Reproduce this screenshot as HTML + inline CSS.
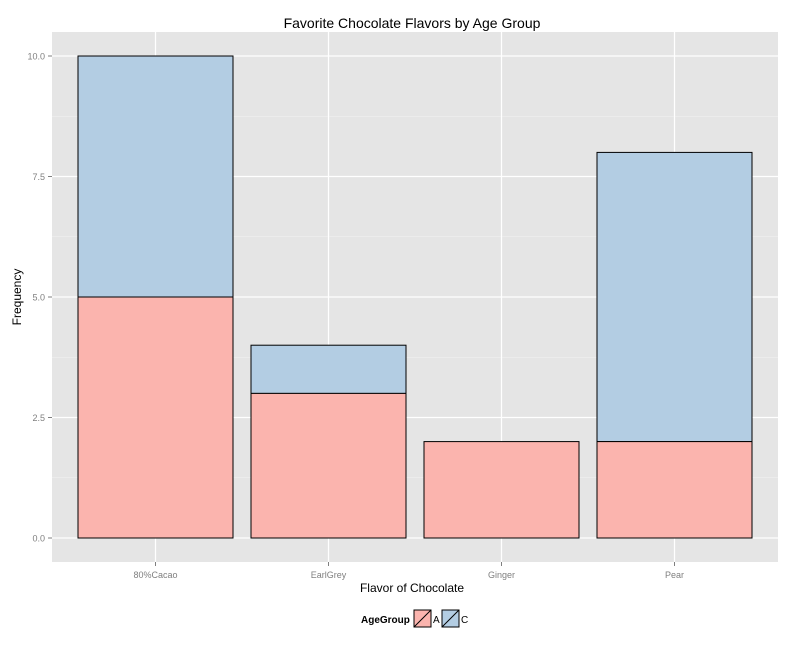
<!DOCTYPE html>
<html><head><meta charset="utf-8"><style>
body{margin:0;background:#fff;font-family:"Liberation Sans",Arial,sans-serif;}
</style></head><body>
<svg id="chart" width="792" height="648" xmlns="http://www.w3.org/2000/svg">
<text x="412" y="28" font-size="14" text-anchor="middle">Favorite Chocolate Flavors by Age Group</text>
<rect x="52" y="32" width="726" height="530" fill="#e5e5e5"/>
<g id="grid"></g><g id="bars"></g><g id="axes"></g>
<text x="412" y="592" font-size="12" text-anchor="middle">Flavor of Chocolate</text>
<text transform="translate(21,297) rotate(-90)" font-size="12" text-anchor="middle">Frequency</text>
<g>
<text x="361" y="623" font-size="10" font-weight="bold">AgeGroup</text>
<g><rect x="414" y="610" width="17" height="17" fill="#fbb4ae" stroke="#000"/><line x1="414" y1="627" x2="431" y2="610" stroke="#000"/><text x="433" y="623" font-size="10">A</text></g>
<g><rect x="442" y="610" width="17" height="17" fill="#b3cde3" stroke="#000"/><line x1="442" y1="627" x2="459" y2="610" stroke="#000"/><text x="461" y="623" font-size="10">C</text></g>
</g>
</svg>
<script>
const categories=["80%Cacao","EarlGrey","Ginger","Pear"];
const seriesA=[5,3,2,2];
const seriesC=[5,1,0,6];
const yTicks=[0,2.5,5,7.5,10];
const yTickLabels=["0.0","2.5","5.0","7.5","10.0"];
const NS="http://www.w3.org/2000/svg";
const y=v=>538-v*48.2;
const step=173, x=i=>155.5+i*step, bw=155;
function mk(tag,attrs,parent){const e=document.createElementNS(NS,tag);for(const k in attrs)e.setAttribute(k,attrs[k]);parent.appendChild(e);return e;}
const grid=document.getElementById('grid'),bars=document.getElementById('bars'),axes=document.getElementById('axes');
for(let i=0;i<yTicks.length-1;i++){const m=(yTicks[i]+yTicks[i+1])/2;const l=mk('line',{x1:52,x2:778,y1:y(m),y2:y(m),stroke:'#f2f2f2','stroke-width':0.6},grid);

}
yTicks.forEach((t,i)=>{const l=mk('line',{x1:52,x2:778,y1:y(t),y2:y(t),stroke:'#fff','stroke-width':1.2},grid);


mk('line',{x1:48,x2:52,y1:y(t),y2:y(t),stroke:'#7f7f7f'},axes);
const tx=mk('text',{x:45,y:y(t)+3.5,'font-size':9,'text-anchor':'end',fill:'#7f7f7f'},axes);tx.textContent=yTickLabels[i];

});
categories.forEach((c,i)=>{const l=mk('line',{x1:x(i),x2:x(i),y1:32,y2:562,stroke:'#fff','stroke-width':1.2},grid);


mk('line',{x1:x(i),x2:x(i),y1:562,y2:566,stroke:'#7f7f7f'},axes);
const tx=mk('text',{x:x(i),y:578,'font-size':9,'text-anchor':'middle',fill:'#7f7f7f'},axes);tx.textContent=c;


const a=seriesA[i],cc=seriesC[i];
if(cc>0){const r=mk('rect',{x:x(i)-bw/2,y:y(a+cc),width:bw,height:y(a)-y(a+cc),fill:'#b3cde3',stroke:'#000'},bars);

}
if(a>0){const r=mk('rect',{x:x(i)-bw/2,y:y(a),width:bw,height:y(0)-y(a),fill:'#fbb4ae',stroke:'#000'},bars);

}
});
</script>
</body></html>
